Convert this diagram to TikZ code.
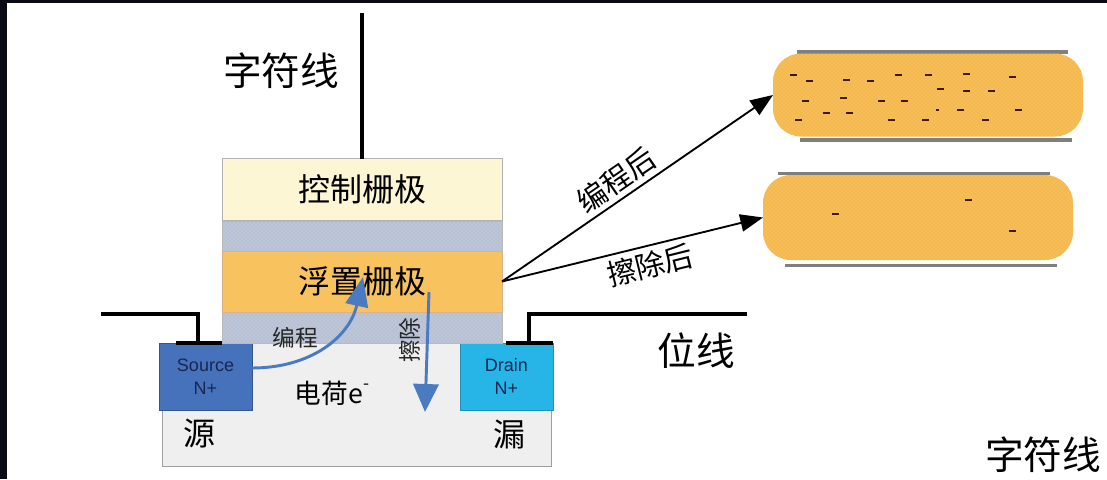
\documentclass[tikz,border=0pt]{standalone}
\usepackage{fontspec}
\setmainfont{Noto Sans CJK SC}
\newfontfamily\latinsf{Liberation Sans}
\usetikzlibrary{arrows.meta,patterns}

\definecolor{cgfill}{HTML}{FCF6D4}
\definecolor{oxfill}{HTML}{BCC6D7}
\definecolor{oxdot}{HTML}{A9B4C8}
\definecolor{fgfill}{HTML}{F8C35E}
\definecolor{subfill}{HTML}{EFEFEF}
\definecolor{srcfill}{HTML}{4672BB}
\definecolor{drnfill}{HTML}{27B5E7}
\definecolor{arrowblue}{HTML}{4A7BC2}
\definecolor{pillfill}{HTML}{F7BE57}
\definecolor{pilldot}{HTML}{ECA73E}
\definecolor{plate}{HTML}{7F7F7F}
\definecolor{chargecol}{HTML}{3A1A0C}
\definecolor{darktext}{HTML}{1B2650}
\definecolor{edge}{HTML}{0A0A16}

\tikzset{
  box/.style 2 args={minimum width=#1*0.75pt, minimum height=#2*0.75pt,
    inner sep=0pt, outer sep=0pt, line width=0.6pt},
  oxide/.style={draw=gray!55, preaction={fill=oxfill},
    pattern=crosshatch dots, pattern color=oxdot},
  wire/.style={line width=2.6pt, line cap=round, black},
  bluearrow/.style={line width=2.2pt, arrowblue},
  blackarrow/.style={line width=1.4pt, black,
    -{Triangle[length=17pt,width=13pt]}},
  pill/.style={minimum width=#1*0.75pt, minimum height=83*0.75pt,
    rounded corners=21pt, inner sep=0pt, outer sep=0pt,
    preaction={fill=pillfill}, pattern=crosshatch dots, pattern color=pilldot},
  plateline/.style={line width=2.3pt, plate},
  bigtext/.style={font=\fontsize{29}{30}\selectfont},
  gatetext/.style={font=\fontsize{24}{26}\selectfont},
  midtext/.style={font=\fontsize{22}{23}\selectfont},
  smalltext/.style={font=\fontsize{17}{18}\selectfont, text=black!85},
  sdtext/.style={font=\latinsf\fontsize{13.5}{17}\selectfont, align=center, text=darktext},
}

\begin{document}
\begin{tikzpicture}[x=0.75pt,y=-0.75pt]
% page and dark edges
\fill[white] (0,0) rectangle (1107,479);
\useasboundingbox (0,0) rectangle (1107,479);
\fill[edge] (0,0) rectangle (7,479);
\fill[edge] (0,0) rectangle (1107,2.5);

% substrate with source and drain wells
\node[box={389}{123}, draw=gray!75, fill=subfill] (sub) at (356.5,404.5) {};
\node[box={93}{67}, draw=srcfill!75!black, fill=srcfill, sdtext] (src) at (205.5,376.5) {Source\\N+};
\node[box={93}{67}, draw=drnfill!80!black, fill=drnfill, sdtext] (drn) at (506.5,376.5) {Drain\\N+};

% gate stack
\node[box={280}{31}, oxide] (oxL) at (362,327.5) {};
\node[box={280}{61}, draw=brown!60, fill=fgfill, gatetext] (fg) at (362,281.5) {浮置栅极};
\node[box={280}{30}, oxide] (oxU) at (362,236) {};
\node[box={280}{62}, draw=gray!60, fill=cgfill, gatetext] (cg) at (362,189.5) {控制栅极};

% word line
\coordinate (wlTop) at (362,13);
\draw[wire, line cap=butt] (wlTop) -- (cg.north);
\node[bigtext] (wlLabel) at (281,71) {字符线};

% source line
\coordinate (slEnd) at (101,314);
\coordinate (slTap) at (198,343);
\coordinate (slBarL) at (176,343);
\coordinate (slBarR) at (222,343);
\draw[wire, line cap=butt] (slEnd) -| (slTap);
\draw[wire, line cap=butt] (slBarL) -- (slBarR);

% bit line
\coordinate (blEnd) at (747,314);
\coordinate (blTap) at (529,343);
\coordinate (blBarL) at (506,343);
\coordinate (blBarR) at (553,343);
\draw[wire, line cap=butt] (blEnd) -| (blTap);
\draw[wire, line cap=butt] (blBarL) -- (blBarR);
\node[bigtext] (blLabel) at (696,351) {位线};

% labels in the cell
\node[gatetext] (srcName) at (199,434) {源};
\node[gatetext] (drnName) at (509,434) {漏};
\node[font=\fontsize{20}{22}\selectfont] (charge) at (332,393) {电荷e\raisebox{0.95ex}{\fontsize{13}{13}\selectfont -}};
\node[smalltext] (prgLabel) at (295,338) {编程};
\node[smalltext, rotate=90] (ersLabel) at (410,340) {擦除};

% programming and erasing paths
\coordinate (prgStart) at (252,368);
\coordinate (prgEnd) at (363,277);
\draw[bluearrow, -{Triangle[length=22pt,width=17pt]}]
  (prgStart) .. controls (312,368) and (350,336) .. (prgEnd);
\coordinate (ersStart) at (429,292);
\coordinate (ersEnd) at (425,412);
\draw[bluearrow, -{Triangle[length=21pt,width=19pt]}] (ersStart) -- (ersEnd);

% charge states of the floating gate
\draw[plateline] (797,52) -- (1068,52);
\draw[plateline] (800,140) -- (1072,140);
\node[pill=310] (pillA) at (928,95) {};
\draw[plateline] (778,173.5) -- (1050,173.5);
\draw[plateline] (785,265.5) -- (1057,265.5);
\node[pill=310, minimum height=85*0.75pt] (pillB) at (918,217.5) {};

\foreach \cx/\cy in {793/75, 809/81, 846/80, 870/81, 898/75, 928/75, 966/74,
  1012/77, 940/89, 966/91, 991/91, 805/101, 843/98, 881/101, 904/101,
  826/113, 849/113, 960/110, 1018/110, 798/120, 891/120, 925/120, 985/120,
  835/214, 968/200, 1012/231}
  \fill[chargecol] (\cx-3.5,\cy-1.4) rectangle (\cx+3.5,\cy+1.4);
\fill[chargecol] (936,109) rectangle (938.5,111);

% after programming / after erasing
\draw[blackarrow] (fg.east) -- node[pos=0.46, sloped, above, midtext] (afterPrg) {编程后} (pillA.west);
\draw[blackarrow] (fg.east) -- node[pos=0.55, sloped, below, midtext] (afterErs) {擦除后} (pillB.west);

\node[bigtext] (wlLabel2) at (1043,455) {字符线};
\end{tikzpicture}
\end{document}
